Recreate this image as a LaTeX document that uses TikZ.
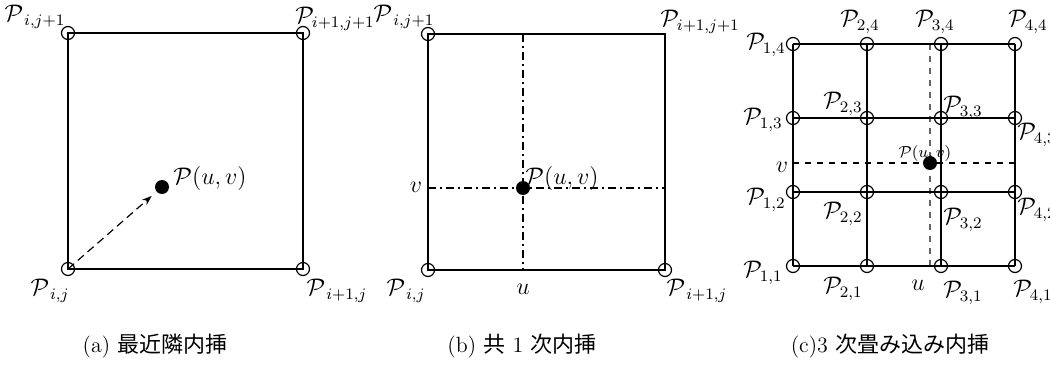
\documentclass[tikz,border=0pt]{standalone}
\usepackage{fontspec}
\newfontfamily\cjk{Noto Sans CJK JP}
\usetikzlibrary{arrows.meta}

\tikzset{
  knot/.style={circle, draw, inner sep=0pt, minimum size=6.5pt},
  sample/.style={circle, fill, inner sep=0pt, minimum size=7pt},
  lbl/.style={font=\large, inner sep=1pt},
  capt/.style={font=\fontsize{11}{13}\selectfont},
  dashdot line/.style={dash pattern=on 4pt off 2pt on 1pt off 2pt},
}

\begin{document}
\begin{tikzpicture}[x=0.5pt, y=-0.5pt, line width=0.6pt]
    \useasboundingbox (0, 0) rectangle (1050, 375);
    % (a) nearest neighbour
    \coordinate (a11) at (68, 269);
    \coordinate (a21) at (303, 269);
    \coordinate (a12) at (68, 33);
    \coordinate (a22) at (303, 33);
    \draw (a11) -- (a21) -- (a22) -- (a12) -- cycle;
    \foreach \n in {a11, a21, a12, a22}
        \node[knot] at (\n) {};
    \node[sample] (aP) at (162, 187) {};
    \draw[dash pattern=on 4pt off 2.5pt, -{Stealth[length=5pt, width=3.5pt]}, shorten >=3pt] (a11) -- (aP);
    \node[lbl] at (35, 17) {$\mathcal{P}_{\,i,j+1}$};
    \node[lbl] at (335, 19) {$\mathcal{P}_{i+1,j+1}$};
    \node[lbl] at (50, 291) {$\mathcal{P}_{\,i,j}$};
    \node[lbl] at (337, 291) {$\mathcal{P}_{\,i+1,j}$};
    \node[lbl] at (210, 178) {$\mathcal{P}(u,v)$};
    \node[capt] at (155, 346) {(a) {\cjk 最近隣内挿}};

    % (b) bilinear
    \coordinate (b11) at (428, 270);
    \coordinate (b21) at (665, 270);
    \coordinate (b12) at (428, 34);
    \coordinate (b22) at (665, 34);
    \coordinate (bu1) at (523, 270);
    \coordinate (bu2) at (523, 34);
    \coordinate (bv1) at (428, 188);
    \coordinate (bv2) at (665, 188);
    \draw[dashdot line] (bu2) -- (bu1);
    \draw[dashdot line] (bv1) -- (bv2);
    \draw (b11) -- (b21) -- (b22) -- (b12) -- cycle;
    \foreach \n in {b11, b21, b12}
        \node[knot] at (\n) {};
    \node[sample] at (523, 188) {};
    \node[lbl] at (404, 17) {$\mathcal{P}_{\,i,j+1}$};
    \node[lbl] at (700, 22) {$\mathcal{P}_{i+1,j+1}$};
    \node[lbl] at (406, 291) {$\mathcal{P}_{\,i,j}$};
    \node[lbl] at (697, 291) {$\mathcal{P}_{\,i+1,j}$};
    \node[lbl] at (416, 187) {$v$};
    \node[lbl] at (523, 289) {$u$};
    \node[lbl] at (562, 178) {$\mathcal{P}(u,v)$};
    \node[capt] at (522, 346) {(b) {\cjk 共} 1 {\cjk 次内挿}};

    % (c) bicubic convolution
    \foreach \i/\x in {1/793, 2/867, 3/941, 4/1015}
        \foreach \j/\y in {1/266, 2/192, 3/118, 4/44}
            \coordinate (c\i\j) at (\x, \y);
    \coordinate (cut) at (930, 44);
    \coordinate (cub) at (930, 266);
    \coordinate (cvl) at (793, 163);
    \coordinate (cvr) at (1015, 163);
    \draw[dashed, gray!80!black] (cut) -- (cub);
    \draw[dashed] (cvl) -- (cvr);
    \foreach \k in {1, ..., 4} {
        \draw (c1\k) -- (c4\k);
        \draw (c\k1) -- (c\k4);
    }
    \foreach \i in {1, ..., 4}
        \foreach \j in {1, ..., 4}
            \node[knot] at (c\i\j) {};
    \node[sample] at (930, 163) {};
    \node[lbl] at (766, 45) {$\mathcal{P}_{1,4}$};
    \node[lbl] at (860, 22) {$\mathcal{P}_{2,4}$};
    \node[lbl] at (935, 22) {$\mathcal{P}_{3,4}$};
    \node[lbl] at (1028, 22) {$\mathcal{P}_{4,4}$};
    \node[lbl] at (763, 120) {$\mathcal{P}_{1,3}$};
    \node[lbl] at (843, 104) {$\mathcal{P}_{2,3}$};
    \node[lbl] at (963, 108) {$\mathcal{P}_{3,3}$};
    \node[lbl] at (1037, 135) {$\mathcal{P}_{4,3}$};
    \node[lbl] at (782, 167) {$v$};
    \node[font=\footnotesize, inner sep=1pt] at (925, 153) {$\mathcal{P}(u,v)$};
    \node[lbl] at (766, 200) {$\mathcal{P}_{1,2}$};
    \node[lbl] at (843, 214) {$\mathcal{P}_{2,2}$};
    \node[lbl] at (963, 220) {$\mathcal{P}_{3,2}$};
    \node[lbl] at (1037, 210) {$\mathcal{P}_{4,2}$};
    \node[lbl] at (763, 273) {$\mathcal{P}_{1,1}$};
    \node[lbl] at (843, 289) {$\mathcal{P}_{2,1}$};
    \node[lbl] at (918, 285) {$u$};
    \node[lbl] at (963, 293) {$\mathcal{P}_{3,1}$};
    \node[lbl] at (1033, 292) {$\mathcal{P}_{4,1}$};
    \node[capt] at (890, 346) {(c)3 {\cjk 次畳み込み内挿}};
\end{tikzpicture}
\end{document}
